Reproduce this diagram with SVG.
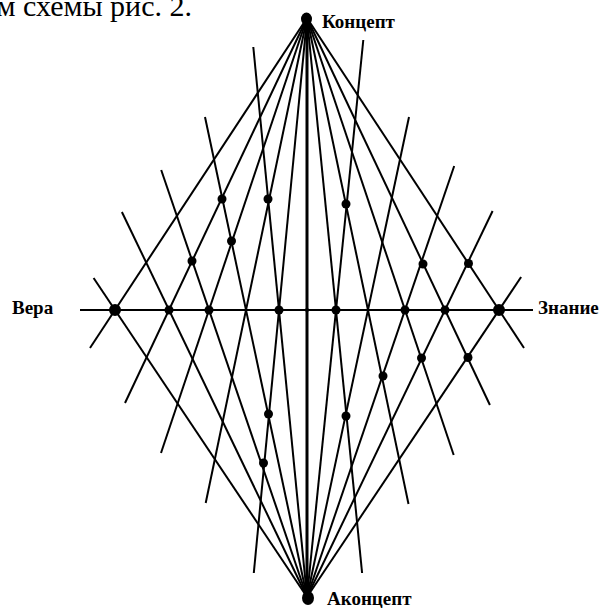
<svg xmlns="http://www.w3.org/2000/svg" width="601" height="608" viewBox="0 0 601 608">
<style>
.ln{stroke:#000;stroke-width:2;fill:none;stroke-linecap:butt}
.ax{stroke:#000;stroke-width:2.2;fill:none}
.mid{stroke:#000;stroke-width:3;fill:none}
.dot{fill:#000}
.lbl{font-family:"Liberation Serif","Times New Roman",serif;font-weight:bold;font-size:19px;fill:#000}
.cap{font-family:"Liberation Serif","Times New Roman",serif;font-size:30px;fill:#000}
</style>
<rect width="601" height="608" fill="#fff"/>
<text class="cap" x="192" y="16" text-anchor="end">ем схемы рис. 2.</text>
<g id="connectors">
<line class="ax" x1="80" y1="310" x2="533" y2="310"/>
<line class="mid" x1="307" y1="18" x2="307" y2="597"/>
<line class="ln" x1="307" y1="18" x2="90" y2="348"/>
<line class="ln" x1="307" y1="18" x2="125" y2="403"/>
<line class="ln" x1="307" y1="18" x2="161" y2="453"/>
<line class="ln" x1="307" y1="18" x2="205.7" y2="503"/>
<line class="ln" x1="307" y1="18" x2="253.8" y2="573"/>
<line class="ln" x1="307" y1="18" x2="362.1" y2="573"/>
<line class="ln" x1="307" y1="18" x2="408.5" y2="504"/>
<line class="ln" x1="307" y1="18" x2="453.7" y2="455"/>
<line class="ln" x1="307" y1="18" x2="489.9" y2="405"/>
<line class="ln" x1="307" y1="18" x2="524" y2="348"/>
<line class="ln" x1="307" y1="597" x2="93.6" y2="278"/>
<line class="ln" x1="307" y1="597" x2="121.9" y2="212"/>
<line class="ln" x1="307" y1="597" x2="161.2" y2="170"/>
<line class="ln" x1="307" y1="597" x2="205" y2="117"/>
<line class="ln" x1="307" y1="597" x2="253.3" y2="47"/>
<line class="ln" x1="307" y1="597" x2="363.3" y2="40"/>
<line class="ln" x1="307" y1="597" x2="409" y2="117"/>
<line class="ln" x1="307" y1="597" x2="454.2" y2="166"/>
<line class="ln" x1="307" y1="597" x2="492.6" y2="211"/>
<line class="ln" x1="307" y1="597" x2="521.1" y2="277"/>
</g>
<g id="concept"><ellipse class="dot" cx="306.5" cy="19" rx="5.5" ry="6.5"/><text class="lbl" x="322" y="28">Концепт</text></g>
<g id="aconcept"><ellipse class="dot" cx="308" cy="598" rx="6" ry="7"/><text class="lbl" x="327" y="605">Аконцепт</text></g>
<g id="vera"><circle class="dot" cx="115" cy="310" r="6"/><text class="lbl" x="12" y="314">Вера</text></g>
<g id="znanie"><circle class="dot" cx="499" cy="310" r="6"/><text class="lbl" x="538" y="314">Знание</text></g>
<g id="axis-dots">
<circle class="dot" cx="169" cy="310" r="4.5"/>
<circle class="dot" cx="209" cy="310" r="4.5"/>
<circle class="dot" cx="279" cy="310" r="4.5"/>
<circle class="dot" cx="307" cy="310" r="2"/>
<circle class="dot" cx="336" cy="310" r="4.5"/>
<circle class="dot" cx="405" cy="310" r="4.5"/>
<circle class="dot" cx="445" cy="310" r="4.5"/>
</g>
<g id="upper-dots">
<circle class="dot" cx="222" cy="199" r="4.5"/>
<circle class="dot" cx="268" cy="199" r="4.5"/>
<circle class="dot" cx="231.5" cy="241" r="4.5"/>
<circle class="dot" cx="192" cy="261" r="4.5"/>
<circle class="dot" cx="346" cy="204" r="4.5"/>
<circle class="dot" cx="423" cy="264" r="4.5"/>
<circle class="dot" cx="468.5" cy="263.5" r="4.5"/>
</g>
<g id="lower-dots">
<circle class="dot" cx="268.5" cy="414" r="4.5"/>
<circle class="dot" cx="263.5" cy="463" r="4.5"/>
<circle class="dot" cx="346" cy="416" r="4.5"/>
<circle class="dot" cx="383" cy="376" r="4.5"/>
<circle class="dot" cx="421.5" cy="358" r="4.5"/>
<circle class="dot" cx="468" cy="357.5" r="4.5"/>
</g>
</svg>
